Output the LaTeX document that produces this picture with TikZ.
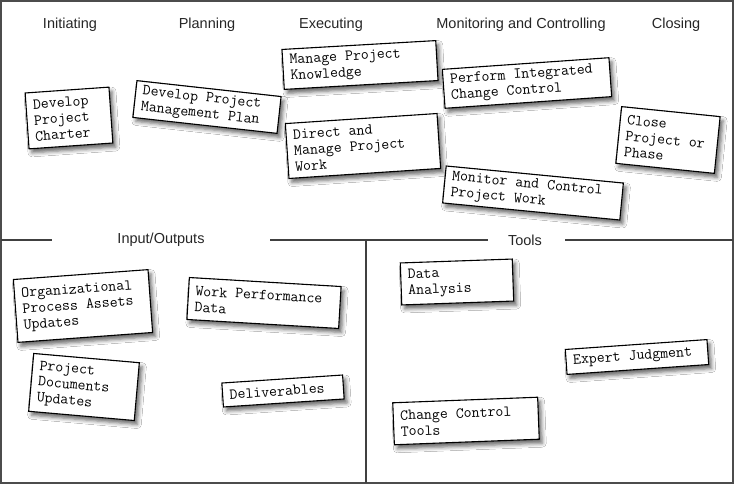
\documentclass[tikz,border=0pt]{standalone}
\usepackage{fontspec}
\setmainfont{Liberation Sans}
\usetikzlibrary{shadows.blur}
\newcommand\cardfontsel{\ttfamily\addfontfeatures{FakeBold=0.9}\fontsize{15.4}{16}\selectfont}
\begin{document}
\begin{tikzpicture}[x=1pt,y=-1pt,
 hdr/.style={font=\fontsize{14.5}{16}\selectfont, inner sep=0pt, anchor=center, text=black!85},
 card/.style={draw=black, line width=1.1pt, fill=white, align=left, inner xsep=7pt, inner ysep=4pt,
   font=\cardfontsel, execute at begin node={\spaceskip=8.1pt\relax},
   blur shadow={shadow xshift=3pt, shadow yshift=-4pt, shadow blur radius=4pt, shadow opacity=60}},
 divline/.style={line width=1.3pt, draw=black!75}]
\useasboundingbox (0,0) rectangle (734,484);
\fill[white] (0,0) rectangle (734,484);
\draw[line width=2pt, black!70] (1,1) rectangle (733,483);

% headers
\node[hdr] (hI) at (70,25) {Initiating};
\node[hdr] (hP) at (207,25) {Planning};
\node[hdr] (hE) at (331,25) {Executing};
\node[hdr] (hM) at (521,25) {Monitoring and Controlling};
\node[hdr] (hC) at (676,25) {Closing};
\node[hdr] (hIO) at (161,240) {Input/Outputs};
\node[hdr] (hT) at (525,240) {Tools};

% dividers
\coordinate (l0) at (1,240);
\coordinate (l1) at (52,240);
\coordinate (l2) at (270,240);
\coordinate (l3) at (488,240);
\coordinate (l4) at (565,240);
\coordinate (l5) at (733,240);
\coordinate (vtop) at (366,240);
\coordinate (vbot) at (366,483);
\draw[divline] (l0) -- (l1);
\draw[divline] (l2) -- (l3);
\draw[divline] (l4) -- (l5);
\draw[divline] (vtop) -- (vbot);

% process cards
\node[card, rotate=4, text width=70pt, minimum height=56pt] (c1) at (69,118) {Develop\\Project\\Charter};
\node[card, rotate=-6.3, text width=131pt, minimum height=37pt] (c2) at (207,107) {Develop Project\\Management Plan};
\node[card, rotate=3.3, text width=140pt, minimum height=40pt] (c3) at (360,65) {Manage Project\\Knowledge};
\node[card, rotate=3.8, text width=138pt, minimum height=55pt] (c4) at (363,146) {Direct and\\Manage Project\\Work};
\node[card, rotate=4, text width=153pt, minimum height=39pt] (c5) at (527,83) {Perform Integrated\\Change Control};
\node[card, rotate=-5.8, text width=85pt, minimum height=57pt] (c6) at (668,140) {Close\\Project or\\Phase};
\node[card, rotate=-5.5, text width=164pt, minimum height=37pt] (c7) at (533,193) {Monitor and Control\\Project Work};

% inputs/outputs
\node[card, rotate=4.2, text width=121pt, minimum height=63pt] (c8) at (83,306) {Organizational\\Process Assets\\Updates};
\node[card, rotate=-3.4, text width=138pt, minimum height=42pt] (c9) at (264,303) {Work Performance\\Data};
\node[card, rotate=-5, text width=92pt, minimum height=58pt] (c10) at (84,387) {Project\\Documents\\Updates};
\node[card, rotate=3.8, text width=107pt, minimum height=24pt] (c11) at (283,391) {Deliverables};

% tools
\node[card, rotate=2, text width=98pt, minimum height=42pt] (c12) at (457,282) {Data\\Analysis};
\node[card, rotate=4, text width=128pt, minimum height=25pt] (c13) at (637,357) {Expert Judgment};
\node[card, rotate=2.2, text width=131pt, minimum height=42pt] (c14) at (466,421) {Change Control\\Tools};
\end{tikzpicture}
\end{document}
